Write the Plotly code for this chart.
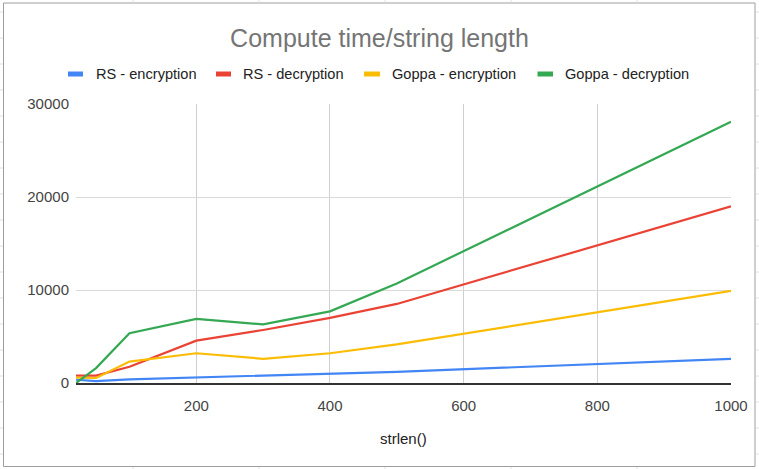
import plotly.graph_objects as go

# ---- data ----
strlen = [20, 50, 100, 200, 300, 400, 500, 1000]
rs_enc = [350, 200, 400, 600, 800, 1000, 1200, 2600]
rs_dec = [800, 800, 1750, 4550, 5700, 7000, 8500, 19000]
goppa_enc = [570, 540, 2300, 3200, 2600, 3200, 4150, 9900]
goppa_dec = [0, 1600, 5350, 6900, 6300, 7700, 10700, 28100]

series_names = ["RS - encryption", "RS - decryption", "Goppa - encryption", "Goppa - decryption"]
series_values = [rs_enc, rs_dec, goppa_enc, goppa_dec]
colors = ["#4285F4", "#EA4335", "#FBBC04", "#34A853"]

x_ticks = [200, 400, 600, 800, 1000]
y_ticks = [0, 10000, 20000, 30000]

W, H = 759, 469
L, R, T, B = 76, 731, 104, 383  # plot area in pixels


def px(x):
    return (x - L) / (R - L)


def py(y):
    return (B - y) / (B - T)


FONT = "Liberation Sans, Arial, sans-serif"

fig = go.Figure()
for name, vals, c in zip(series_names, series_values, colors):
    fig.add_trace(go.Scatter(x=strlen, y=vals, mode="lines", name=name,
                             line=dict(color=c, width=2.2), showlegend=False))

shapes = []
annotations = []

# chart border (spreadsheet chart frame)
shapes.append(dict(type="rect", xref="paper", yref="paper",
                   x0=px(3.5), x1=px(755), y0=py(466.5), y1=py(3),
                   line=dict(color="#9e9e9e", width=1), layer="below"))
# spreadsheet cell lines peeking around the frame
cell_col = "#e2e2e2"
for yy in [12, 38, 64, 90, 116, 142, 168, 194, 220, 246, 272, 298, 324, 350, 376, 402, 428, 454]:
    shapes.append(dict(type="line", xref="paper", yref="paper", x0=px(0), x1=px(3),
                       y0=py(yy), y1=py(yy), line=dict(color=cell_col, width=1)))
    shapes.append(dict(type="line", xref="paper", yref="paper", x0=px(756), x1=px(759),
                       y0=py(yy), y1=py(yy), line=dict(color=cell_col, width=1)))
for xx in [133, 259, 385, 511, 637]:
    shapes.append(dict(type="line", xref="paper", yref="paper", x0=px(xx), x1=px(xx),
                       y0=py(0), y1=py(2.5), line=dict(color=cell_col, width=1)))
    shapes.append(dict(type="line", xref="paper", yref="paper", x0=px(xx), x1=px(xx),
                       y0=py(467), y1=py(469), line=dict(color=cell_col, width=1)))

# custom legend
legend_rects = [(68, 83), (216, 231), (364, 380), (537.5, 553)]
legend_text_x = [93.5, 241, 390, 563]
for (x0, x1), tx, name, c in zip(legend_rects, legend_text_x, series_names, colors):
    shapes.append(dict(type="rect", xref="paper", yref="paper",
                       x0=px(x0), x1=px(x1), y0=py(76.5), y1=py(71.5),
                       fillcolor=c, line=dict(width=0)))
    annotations.append(dict(text=name, xref="paper", yref="paper", x=px(tx), y=py(74.5),
                            xanchor="left", yanchor="middle", showarrow=False,
                            font=dict(family=FONT, size=14.6, color="#222222")))

# x axis title
annotations.append(dict(text="strlen()", xref="paper", yref="paper", x=0.5, y=py(438),
                        xanchor="center", yanchor="middle", showarrow=False,
                        font=dict(family=FONT, size=15, color="#222222")))

fig.update_layout(
    width=W, height=H,
    margin=dict(l=L, r=W - R, t=T, b=H - B),
    paper_bgcolor="white", plot_bgcolor="white",
    title=dict(text="Compute time/string length", x=0.5, xanchor="center",
               y=1 - 38 / H, yanchor="middle",
               font=dict(family=FONT, size=25, color="#757575")),
    shapes=shapes,
    annotations=annotations,
    showlegend=False,
    xaxis=dict(range=[20, 1000], tickvals=x_ticks, ticktext=[str(v) for v in x_ticks],
               showgrid=True, gridcolor="#cfcfcf", gridwidth=1,
               zeroline=False, showline=True, linecolor="#333333", linewidth=1.5,
               ticks="", ticklabelstandoff=8,
               tickfont=dict(family=FONT, size=15, color="#444444")),
    yaxis=dict(range=[0, 30000], tickvals=y_ticks, ticktext=[str(v) for v in y_ticks],
               showgrid=True, gridcolor="#d9d9d9", gridwidth=1,
               zeroline=False, showline=False, ticks="", ticklabelstandoff=6,
               tickfont=dict(family=FONT, size=15, color="#444444")),
)

fig.write_html("out.html")
